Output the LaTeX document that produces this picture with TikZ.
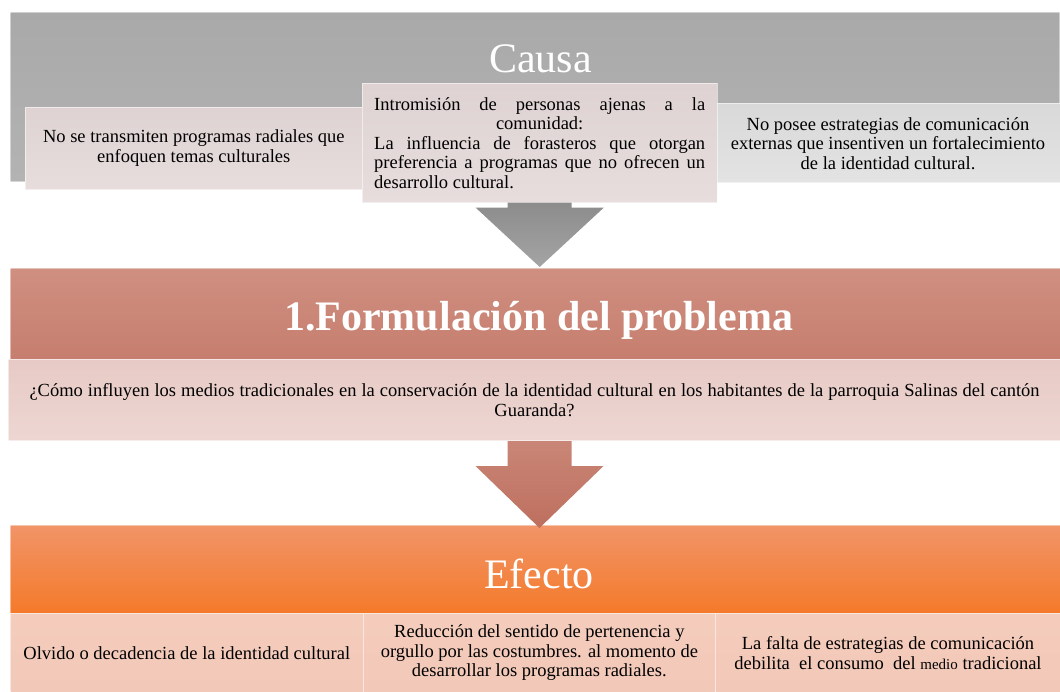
\documentclass[tikz,border=0pt]{standalone}
\usepackage{fontspec}
\setmainfont{Liberation Serif}
\usetikzlibrary{calc}

\definecolor{grisA}{HTML}{A9A9A9}
\definecolor{grisB}{HTML}{B3B3B3}
\definecolor{salmonA}{HTML}{CF8F81}
\definecolor{salmonB}{HTML}{C67E6E}
\definecolor{naranjaA}{HTML}{F19468}
\definecolor{naranjaB}{HTML}{F47A2A}
\definecolor{flechagrisA}{HTML}{8C8C8C}
\definecolor{flechagrisB}{HTML}{A4A4A4}
\definecolor{flecharojaA}{HTML}{C98676}
\definecolor{flecharojaB}{HTML}{BE6F5F}
\definecolor{cajarosaA}{HTML}{DED3D2}
\definecolor{cajarosaB}{HTML}{E6DDDC}
\definecolor{cajagrisA}{HTML}{D9D9D9}
\definecolor{cajagrisB}{HTML}{E3E3E3}
\definecolor{cajaprobA}{HTML}{E7CAC5}
\definecolor{cajaprobB}{HTML}{EDD6D2}
\definecolor{cajaefA}{HTML}{F5CDBD}
\definecolor{cajaefB}{HTML}{F2C8B8}

\tikzset{
  banda/.style 2 args={anchor=north west,inner sep=0pt,top color=#1,bottom color=#2,draw=white,draw opacity=0.45,line width=1pt},
  caja/.style 2 args={anchor=north west,inner sep=0pt,top color=#1,bottom color=#2,draw=white,draw opacity=0.55,line width=1pt,align=center,font=\fontsize{18.5}{19.5}\selectfont},
  titulo/.style={anchor=base,inner sep=0pt,text=white,font=\fontsize{42}{50}\selectfont},
  flecha/.style 2 args={top color=#1,bottom color=#2},
}

\begin{document}
\begin{tikzpicture}[x=1pt,y=-1pt]
\path[use as bounding box] (0,0) rectangle (1060.0,691.0);
% bands
\node[banda={grisA}{grisB},minimum width=1049,minimum height=169] (causa) at (10,12) {};
\node[banda={salmonA}{salmonB},minimum width=1050,minimum height=91] (prob) at (10,268) {};
\node[banda={naranjaA}{naranjaB},minimum width=1050,minimum height=87.5] (efecto) at (10,525) {};
% titles
\node[titulo] (causat) at (540.5,72) {Causa};
\node[titulo,font=\fontsize{42}{50}\selectfont\bfseries] (probt) at (538.7,330.5) {1.Formulación del problema};
\node[titulo] (efectot) at (539,588) {Efecto};
% cause boxes
\node[caja={cajarosaA}{cajarosaB},minimum width=337,minimum height=82] (cbox1) at (24.8,106.7)
  {No se transmiten programas radiales que\\ enfoquen temas culturales};
\node[caja={cajagrisA}{cajagrisB},minimum width=345,minimum height=79] (cbox3) at (715,103.3)
  {No posee estrategias de comunicación\\ externas que insentiven un fortalecimiento\\ de la identidad cultural.};
\node[caja={cajarosaA}{cajarosaB},minimum width=355,minimum height=119] (cbox2) at (361.7,82.7)
  {\makebox[331pt][s]{Intromisión de personas ajenas a la}\\
   comunidad:\\
   \makebox[331pt][s]{La influencia de forasteros que otorgan}\\
   \makebox[331pt][s]{preferencia a programas que no ofrecen un}\\
   \makebox[331pt][l]{desarrollo cultural.}};
% problem box
\node[caja={cajaprobA}{cajaprobB},minimum width=1052,minimum height=81] (pbox) at (8,359)
  {\makebox[1010pt][s]{¿Cómo influyen los medios tradicionales en la conservación de la identidad cultural en los habitantes de la parroquia Salinas del cantón}\\ Guaranda?};
% effect boxes
\node[caja={cajaefA}{cajaefB},minimum width=352.7,minimum height=80] (ebox1) at (10,612.5)
  {Olvido o decadencia de la identidad cultural};
\node[caja={cajaefA}{cajaefB},minimum width=352.3,minimum height=80] (ebox2) at (362.7,612.5)
  {Reducción del sentido de pertenencia y\\ orgullo por las costumbres. al momento de\\ desarrollar los programas radiales.};
\node[caja={cajaefA}{cajaefB},minimum width=345,minimum height=80] (ebox3) at (715,612.5)
  {La falta de estrategias de comunicación\\ debilita\ \ el consumo\ \ del {\fontsize{15}{17}\selectfont medio} tradicional};
% block arrows
\shade[flecha={flechagrisA}{flechagrisB}] let \p1=(cbox2.south), \p2=(prob.north) in
  (\x1-32pt,\y1) -- (\x1+32pt,\y1) -- (\x1+32pt,\y1-5pt) -- (\x1+64pt,\y1-5pt)
  -- (\x1,\y2+1pt) -- (\x1-64pt,\y1-5pt) -- (\x1-32pt,\y1-5pt) -- cycle;
\shade[flecha={flecharojaA}{flecharojaB}] let \p1=($(pbox.south)+(5,0)$), \p2=(efecto.north) in
  (\x1-32pt,\y1) -- (\x1+32pt,\y1) -- (\x1+32pt,\y1-25pt) -- (\x1+64pt,\y1-25pt)
  -- (\x1,\y2-3pt) -- (\x1-64pt,\y1-25pt) -- (\x1-32pt,\y1-25pt) -- cycle;
\end{tikzpicture}
\end{document}
